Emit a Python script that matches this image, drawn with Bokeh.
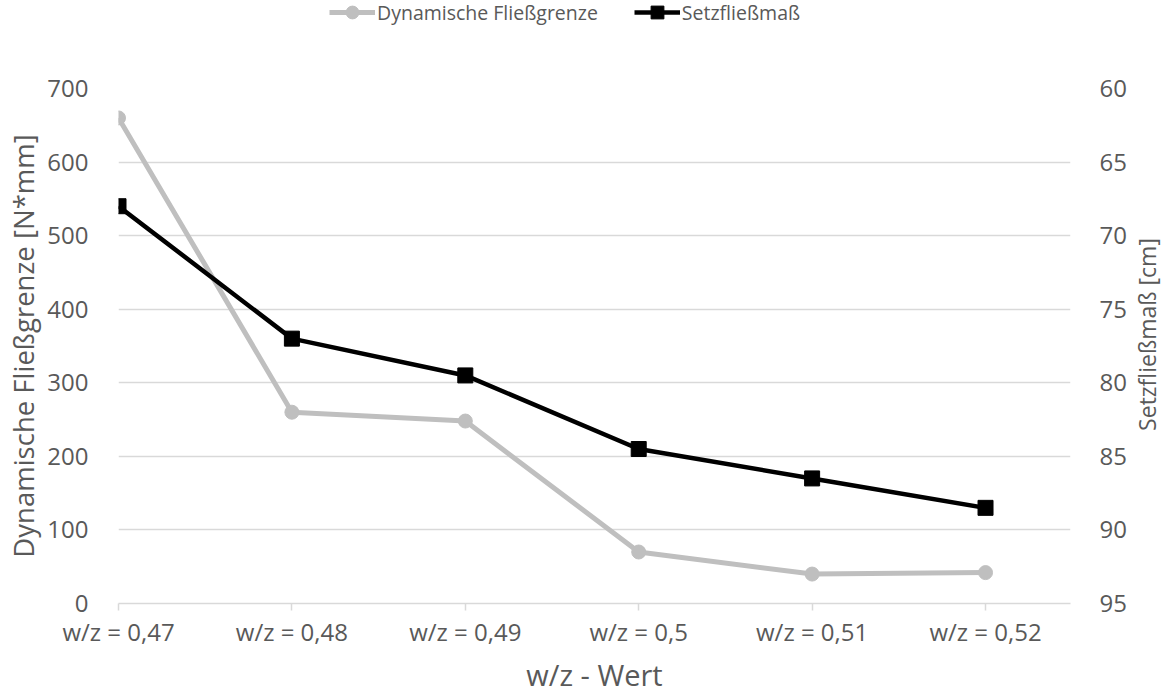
import math
from bokeh.plotting import figure
from bokeh.layouts import column, row
from bokeh.models import (Range1d, LinearAxis, FixedTicker, Legend, LegendItem, Label)
from bokeh.embed import file_html
from bokeh.resources import INLINE

# w/z categories and measured series
categories = ["w/z = 0,47", "w/z = 0,48", "w/z = 0,49", "w/z = 0,5", "w/z = 0,51", "w/z = 0,52"]
fliessgrenze = [660, 260, 248, 70, 40, 42]           # N*mm, left axis
setzfliessmass = [68, 77, 79.5, 84.5, 86.5, 88.5]    # cm, right axis (reversed)
series_names = ["Dynamische Fließgrenze", "Setzfließmaß"]

left_ticks = [0, 100, 200, 300, 400, 500, 600, 700]
right_ticks = [60, 65, 70, 75, 80, 85, 90, 95]

FONT = "Open Sans"
TXT = "#595959"
GRID = "#d9d9d9"
GRAY = "#bfbfbf"

MAIN_W = 1130   # chart column; the right-hand axis title sits in a narrow strip beside it
xs = list(range(len(categories)))

# ---- main chart ----
p = figure(width=MAIN_W, height=636, output_backend="svg", toolbar_location=None,
           x_range=Range1d(0, 5.49), y_range=Range1d(0, 700),
           min_border_left=118, min_border_right=60, min_border_top=28, min_border_bottom=93)
p.outline_line_color = None
p.background_fill_color = "white"
p.border_fill_color = "white"

p.extra_y_ranges = {"right": Range1d(start=95, end=60)}

xa = p.xaxis[0]
xa.ticker = FixedTicker(ticks=xs)
xa.major_label_overrides = {i: c for i, c in enumerate(categories)}
xa.axis_line_color = GRID
xa.axis_line_width = 1.5
xa.major_tick_line_color = GRID
xa.major_tick_line_width = 1.5
xa.major_tick_in = 0
xa.major_tick_out = 7
xa.minor_tick_line_color = None
xa.major_label_text_font = FONT
xa.major_label_text_font_size = "24px"
xa.major_label_text_color = TXT
xa.major_label_standoff = 4
xa.axis_label = "w/z - Wert"
xa.axis_label_text_font = FONT
xa.axis_label_text_font_size = "29px"
xa.axis_label_text_font_style = "normal"
xa.axis_label_text_color = TXT
xa.axis_label_standoff = 4

ya = p.yaxis[0]
ya.ticker = FixedTicker(ticks=left_ticks)
ya.axis_line_color = None
ya.major_tick_line_color = None
ya.minor_tick_line_color = None
ya.major_label_text_font = FONT
ya.major_label_text_font_size = "24px"
ya.major_label_text_color = TXT
ya.major_label_standoff = 24
ya.axis_label = "Dynamische Fließgrenze [N*mm]"
ya.axis_label_text_font = FONT
ya.axis_label_text_font_size = "27.5px"
ya.axis_label_text_font_style = "normal"
ya.axis_label_text_color = TXT
ya.axis_label_standoff = 2

ra = LinearAxis(y_range_name="right", ticker=FixedTicker(ticks=right_ticks))
ra.axis_line_color = None
ra.major_tick_line_color = None
ra.minor_tick_line_color = None
ra.major_label_text_font = FONT
ra.major_label_text_font_size = "24px"
ra.major_label_text_color = TXT
ra.major_label_standoff = 23
p.add_layout(ra, "right")

p.xgrid.grid_line_color = None
p.ygrid.ticker = FixedTicker(ticks=left_ticks)
p.ygrid.grid_line_color = GRID
p.ygrid.grid_line_width = 1.5

p.line(xs, fliessgrenze, line_color=GRAY, line_width=5)
p.scatter(xs, fliessgrenze, marker="circle", size=14, fill_color=GRAY, line_color=GRAY)
p.line(xs, setzfliessmass, y_range_name="right", line_color="black", line_width=4.5)
p.scatter(xs, setzfliessmass, y_range_name="right", marker="square", size=15,
          fill_color="black", line_color="black")

# ---- legend strip across the top (key glyphs sit outside its visible range) ----
lf = figure(width=MAIN_W, height=60, output_backend="svg", toolbar_location=None,
            x_range=Range1d(0, 1), y_range=Range1d(0, 1),
            x_axis_type=None, y_axis_type=None, min_border=0)
lf.outline_line_color = None
lf.grid.visible = False
off = [-10, -9]
kl1 = lf.line(x=off, y=off, line_color=GRAY, line_width=5)
km1 = lf.scatter(x=off, y=off, marker="circle", size=14, fill_color=GRAY, line_color=GRAY)
kl2 = lf.line(x=off, y=off, line_color="black", line_width=4.5)
km2 = lf.scatter(x=off, y=off, marker="square", size=15, fill_color="black", line_color="black")

legend = Legend(items=[
    LegendItem(label=series_names[0], renderers=[kl1, km1]),
    LegendItem(label=series_names[1], renderers=[kl2, km2]),
], orientation="horizontal", location=(211, 32))
legend.border_line_color = None
legend.background_fill_alpha = 0
legend.padding = 0
legend.margin = 0
legend.spacing = 36
legend.glyph_width = 46
legend.glyph_height = 32
legend.label_height = 24
legend.label_standoff = 2
legend.label_text_font = FONT
legend.label_text_font_size = "19.5px"
legend.label_text_color = TXT
lf.add_layout(legend, "center")

# ---- right-hand axis title, reading bottom to top ----
tf = figure(width=1163 - MAIN_W, height=696, output_backend="svg", toolbar_location=None,
            x_range=Range1d(0, 1), y_range=Range1d(0, 1),
            x_axis_type=None, y_axis_type=None, min_border=0)
tf.outline_line_color = None
tf.grid.visible = False
tf.add_layout(Label(x=16, y=365, x_units="screen", y_units="screen",
                    text="Setzfließmaß  [cm]", angle=math.pi / 2,
                    text_align="center", text_baseline="middle",
                    text_font=FONT, text_font_size="23px", text_color=TXT))

layout = row(column(lf, p, spacing=0), tf, spacing=0)
open("out.html", "w").write(file_html(layout, INLINE))
